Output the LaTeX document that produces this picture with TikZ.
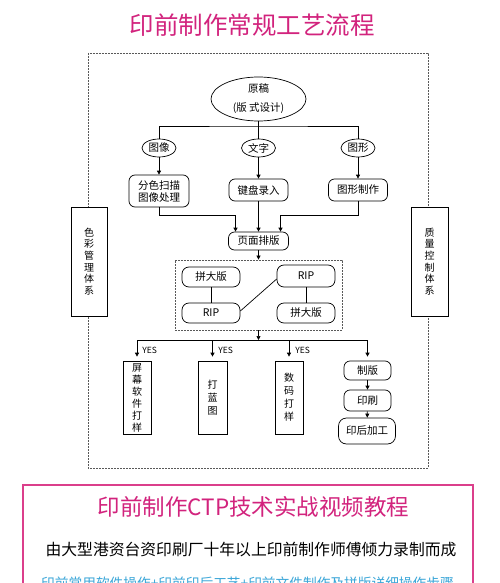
\documentclass[tikz,border=0pt]{standalone}
\usepackage{fontspec}
\setmainfont{Noto Sans CJK SC}
\usetikzlibrary{shapes.geometric,arrows.meta}
\definecolor{mag}{HTML}{D2237D}
\definecolor{pinkline}{HTML}{DB3F8B}
\definecolor{bluet}{HTML}{3AA6D8}
\begin{document}
\begin{tikzpicture}[x=1pt,y=-1pt,
  font=\fontsize{10.5}{12}\selectfont, line width=0.7pt,
  rb/.style={draw, rounded corners=6pt, inner sep=0pt, align=center},
  sb/.style={draw, inner sep=0pt, align=center},
  ov/.style={draw, ellipse, inner sep=0pt, align=center},
  arr/.style={-{Triangle[length=4pt,width=4pt]}},
  dsh/.style={draw=gray!70!black, dash pattern=on 1.6pt off 1.4pt, line width=0.8pt},
  yes/.style={anchor=west, font=\fontsize{8.5}{10}\selectfont, inner sep=0pt},
  vtxt/.style={font=\fontsize{10}{11.6}\selectfont}]
\clip (0,0) rectangle (500,583);
\fill[white] (0,0) rectangle (500,583);

\node[text=mag, font=\fontsize{24.5}{26}\selectfont] (title) at (252,25) {印前制作常规工艺流程};

\draw[dsh] (88,53) rectangle (428,468);

\node[sb, fill=white, minimum width=36, minimum height=109, vtxt] (cm) at (89,261.5) {色\\彩\\管\\理\\体\\系};
\node[sb, fill=white, minimum width=37, minimum height=109, vtxt] (qc) at (429.5,261.5) {质\\量\\控\\制\\体\\系};

\node[ov, minimum width=95, minimum height=44] (orig) at (258.5,99) {原稿\\[7pt](版\ 式设计)};

\node[ov, minimum width=34, minimum height=18] (img) at (159,148) {图像};
\node[ov, minimum width=34, minimum height=18] (txt) at (258.5,148) {文字};
\node[ov, minimum width=34, minimum height=18] (shp) at (358,148) {图形};
\coordinate (h1) at (258.5,126);
\draw (orig.south) -- (txt.north);
\draw (img.north) |- (h1) -| (shp.north);

\node[rb, minimum width=60, minimum height=32] (b1) at (159,191) {分色扫描\\图像处理};
\node[rb, minimum width=59, minimum height=22] (b2) at (258.5,190) {键盘录入};
\node[rb, minimum width=59, minimum height=22] (b3) at (358,190) {图形制作};
\draw[arr] (img) -- (b1);
\draw[arr] (txt) -- (b2);
\draw[arr] (shp) -- (b3);

\node[rb, minimum width=60, minimum height=18] (pm) at (258.5,241) {页面排版};
\draw[arr] (b1.south) -- ++(0,8) -| ([xshift=-23pt]pm.north);
\draw[arr] (b2) -- (pm);
\draw[arr] (b3.south) -- ++(0,14) -| ([xshift=22pt]pm.north);

\node[dsh, minimum width=167, minimum height=70, inner sep=0pt] (ibox) at (258.5,295) {};
\draw[arr] (pm) -- (ibox.north);

\node[rb, rounded corners=7pt, minimum width=58, minimum height=20] (p1) at (211,277) {拼大版};
\node[rb, rounded corners=7pt, minimum width=58, minimum height=20] (r1) at (211,313) {RIP};
\node[rb, rounded corners=7pt, minimum width=58, minimum height=22] (r2) at (306,276) {RIP};
\node[rb, rounded corners=7pt, minimum width=58, minimum height=20] (p2) at (306,313) {拼大版};
\draw (p1) -- (r1);
\draw (r2) -- (p2);
\draw ([yshift=2pt]r1.east) -- ([yshift=-3pt]r2.west);

\coordinate (hb) at (258.5,340);
\draw[arr] (ibox.south) -- (hb);

\node[sb, minimum width=28, minimum height=73, font=\fontsize{10}{12}\selectfont] (o1) at (137,397.5) {屏\\幕\\软\\件\\打\\样};
\node[sb, minimum width=29, minimum height=73, font=\fontsize{10}{13}\selectfont] (o2) at (212.5,397.5) {打\\蓝\\图};
\node[sb, minimum width=28, minimum height=73, font=\fontsize{10}{13}\selectfont] (o3) at (289,397.5) {数\\码\\打\\样};
\node[rb, minimum width=47, minimum height=19] (o4) at (367.5,370.5) {制版};
\node[rb, minimum width=47, minimum height=21] (o5) at (367.5,400.5) {印刷};
\node[rb, rounded corners=8pt, minimum width=57, minimum height=26] (o6) at (367,431) {印后加工};

\draw (o1.north |- hb) -- (o4.north |- hb);
\draw[arr] (o1.north |- hb) -- ([yshift=4pt]o1.north);
\draw[arr] (o2.north |- hb) -- ([yshift=4pt]o2.north);
\draw[arr] (o3.north |- hb) -- ([yshift=4pt]o3.north);
\draw[arr] (o4.north |- hb) -- ([yshift=4pt]o4.north);
\draw[arr] (o4) -- (o5);
\draw[arr] (o5) -- (o6);

\node[yes] (y1) at (142,350) {YES};
\node[yes] (y2) at (218,350) {YES};
\node[yes] (y3) at (295,350) {YES};

\draw[pinkline, line width=1.2pt] (23,485) rectangle (473,600);
\node[text=mag, font=\fontsize{22.5}{24}\selectfont] (t2) at (253.5,507) {印前制作CTP技术实战视频教程};
\node[font=\fontsize{15.8}{17}\selectfont] (t3) at (251,550) {由大型港资台资印刷厂十年以上印前制作师傅倾力录制而成};
\node[text=bluet, font=\fontsize{13.7}{15}\selectfont] (t4) at (247.5,583) {印前常用软件操作+印前印后工艺+印前文件制作及拼版详细操作步骤};
\end{tikzpicture}
\end{document}
